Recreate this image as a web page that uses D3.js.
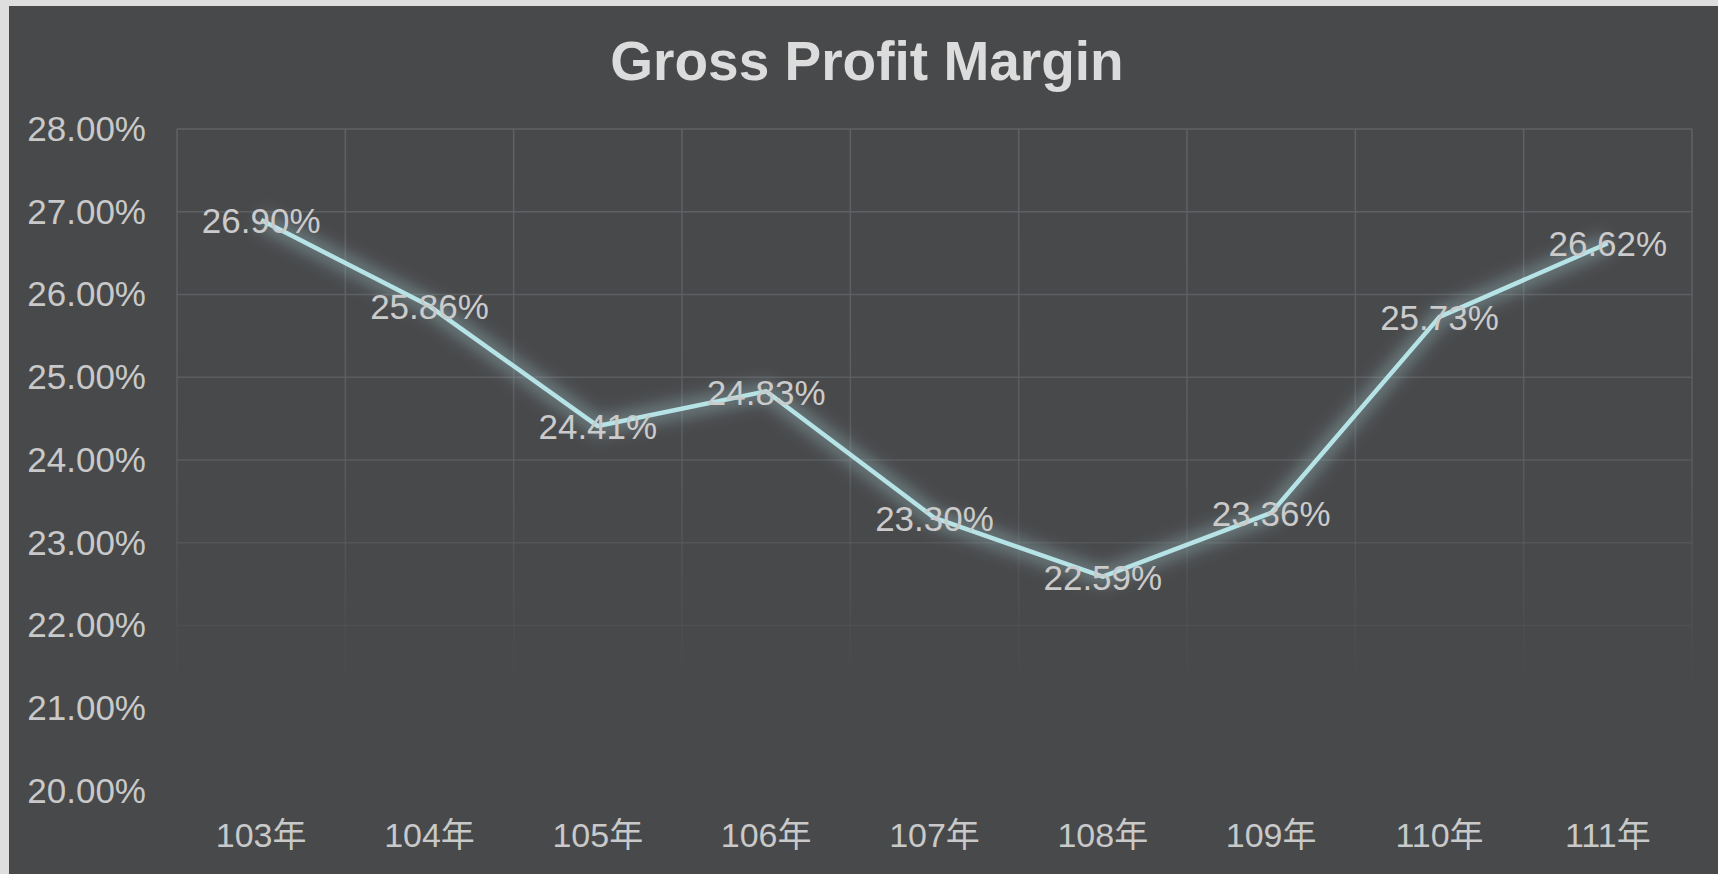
<!DOCTYPE html>
<html>
<head>
<meta charset="utf-8">
<script src="https://cdn.jsdelivr.net/npm/d3@7"></script>
<style>
  html, body { margin: 0; padding: 0; background: #dedede; }
  svg { display: block; }
</style>
</head>
<body>
<div id="chart"></div>
<script>
// data
const years = ["103年", "104年", "105年", "106年", "107年", "108年", "109年", "110年", "111年"];
const margins = [26.90, 25.86, 24.41, 24.83, 23.30, 22.59, 23.36, 25.73, 26.62];
const yTicks = [20, 21, 22, 23, 24, 25, 26, 27, 28];

const width = 1718;
const height = 874;
const font = "'Liberation Sans', Arial, 'Noto Sans CJK TC', sans-serif";

const svg = d3.select("#chart").append("svg")
    .attr("width", width)
    .attr("height", height);

// chart background (light frame shows on top and left)
svg.append("rect")
    .attr("x", 9).attr("y", 6)
    .attr("width", width - 9).attr("height", height - 6)
    .attr("fill", "#48494b");

const plotLeft = 177, plotRight = 1692, plotTop = 129, plotBottom = 791;

const x = d3.scaleBand().domain(years).range([plotLeft, plotRight]);
const y = d3.scaleLinear().domain([20, 28]).range([plotBottom, plotTop]);

const defs = svg.append("defs");

// gridlines fade out toward the bottom
const grad = defs.append("linearGradient")
    .attr("id", "gridFade")
    .attr("gradientUnits", "userSpaceOnUse")
    .attr("x1", 0).attr("x2", 0).attr("y1", plotTop).attr("y2", 690);
grad.append("stop").attr("offset", "0%").attr("stop-color", "#606164").attr("stop-opacity", 1);
grad.append("stop").attr("offset", "55%").attr("stop-color", "#606164").attr("stop-opacity", 0.8);
grad.append("stop").attr("offset", "100%").attr("stop-color", "#606164").attr("stop-opacity", 0);

const glow = defs.append("filter")
    .attr("id", "glow")
    .attr("x", "-10%").attr("y", "-20%").attr("width", "120%").attr("height", "140%");
glow.append("feGaussianBlur").attr("stdDeviation", 8);

const grid = svg.append("g")
    .attr("stroke", "url(#gridFade)")
    .attr("stroke-width", 1.5)
    .attr("fill", "none");

grid.selectAll("line.h")
    .data(yTicks)
    .join("line")
    .attr("class", "h")
    .attr("x1", plotLeft).attr("x2", plotRight)
    .attr("y1", d => y(d)).attr("y2", d => y(d));

const bounds = years.map(d => x(d)).concat([plotRight]);
grid.selectAll("line.v")
    .data(bounds)
    .join("line")
    .attr("class", "v")
    .attr("x1", d => d).attr("x2", d => d)
    .attr("y1", plotTop).attr("y2", 700);

// y axis labels
svg.append("g")
    .selectAll("text")
    .data(yTicks)
    .join("text")
    .attr("x", 146)
    .attr("y", d => y(d))
    .attr("dy", "0.34em")
    .attr("text-anchor", "end")
    .attr("fill", "#c9c9c9")
    .attr("font-family", font)
    .attr("font-size", "35px")
    .text(d => d3.format(".2f")(d) + "%");

// x axis labels
svg.append("g")
    .selectAll("text")
    .data(years)
    .join("text")
    .attr("x", d => x(d) + x.bandwidth() / 2)
    .attr("y", 847)
    .attr("text-anchor", "middle")
    .attr("fill", "#c9c9c9")
    .attr("font-family", font)
    .attr("font-size", "34px")
    .text(d => d);

// line
const line = d3.line()
    .x((d, i) => x(years[i]) + x.bandwidth() / 2)
    .y(d => y(d));

svg.append("path")
    .datum(margins)
    .attr("d", line)
    .attr("fill", "none")
    .attr("stroke", "#a0c8cc")
    .attr("stroke-opacity", 0.4)
    .attr("stroke-width", 18)
    .attr("stroke-linejoin", "round")
    .attr("filter", "url(#glow)");

svg.append("path")
    .datum(margins)
    .attr("d", line)
    .attr("fill", "none")
    .attr("stroke", "#b6e3e6")
    .attr("stroke-width", 4.5)
    .attr("stroke-linejoin", "round");

// data labels, centred on points
svg.append("g")
    .selectAll("text")
    .data(margins)
    .join("text")
    .attr("x", (d, i) => x(years[i]) + x.bandwidth() / 2)
    .attr("y", d => y(d))
    .attr("dy", "0.38em")
    .attr("text-anchor", "middle")
    .attr("fill", "#cbcbcb")
    .attr("font-family", font)
    .attr("font-size", "35px")
    .text(d => d3.format(".2f")(d) + "%");

// title
svg.append("text")
    .attr("x", 867)
    .attr("y", 80)
    .attr("text-anchor", "middle")
    .attr("fill", "#dcdcdc")
    .attr("font-family", font)
    .attr("font-weight", "bold")
    .attr("font-size", "55px")
    .text("Gross Profit Margin");
</script>
</body>
</html>
